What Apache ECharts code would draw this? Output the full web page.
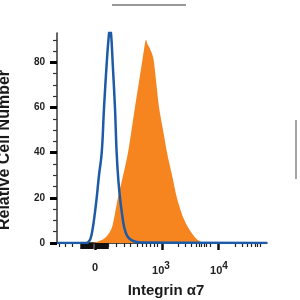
<!DOCTYPE html>
<html>
<head>
<meta charset="utf-8">
<script src="https://cdn.jsdelivr.net/npm/echarts@6/dist/echarts.min.js"></script>
<style>html,body{margin:0;padding:0;background:#fff}#c{width:300px;height:300px}</style>
</head>
<body>
<div id="c"></div>
<script>
// Display-scale channel (0..1000) on a biexponential axis
const isotypeX = [0, 140, 150, 160, 171, 180, 189, 200, 213, 224, 237, 245, 252, 258, 265, 276, 284, 292, 300, 308, 320, 335, 360, 400, 1000];
const isotypeY = [0, 0, 0.5, 2, 7, 13, 20, 30, 40, 60, 80, 90, 95, 92, 80, 60, 40, 28, 20, 14, 7, 3, 1, 0.2, 0];

const stainedX = [0, 167, 185, 205, 225, 245, 262, 276, 290, 315, 338, 355, 371, 388, 405, 415, 424, 431, 438, 445, 452, 458, 462, 474, 486, 505, 524, 548, 571, 598, 624, 645, 662, 680, 695, 1000];
const stainedY = [0, 0, 0.3, 1, 2, 4, 7, 13, 20, 30, 40, 50, 60, 70, 80, 86, 90, 88, 87, 85.5, 84, 82, 80, 70, 60, 50, 40, 30, 20, 12, 7, 4, 2, 0.8, 0, 0];

const xLabelValues = [181, 495, 771];
const xLabelBase = ['0', '10', '10'];
const xLabelExp = ['', '3', '4'];
const xMajorTicks = [181, 499, 768];
const xDenseTicks = [114, 124, 133, 143, 152, 162, 167, 190, 200, 210, 219, 229, 238];
const xMinorTicks = [9.5, 41, 73, 243, 284, 319, 348, 380, 405, 427, 443, 462, 475, 576, 610, 641, 662, 678, 689, 700, 713, 729, 848, 880, 906, 927, 943, 954, 967];

const yLabelValues = [0, 20, 40, 60, 80];
const yMinorTicks = [5, 10, 15, 25, 30, 35, 45, 50, 55, 65, 70, 75, 85, 90];

const xTitle = 'Integrin α7';
const yTitle = 'Relative Cell Number';

const chart = echarts.init(document.getElementById('c'));
const font = 'Liberation Sans, Arial, sans-serif';
const pair = (xs, ys) => xs.map((x, i) => [x, ys[i]]);

const baseX = {
  type: 'value', min: 0, max: 1000, position: 'bottom',
  splitLine: { show: false }, axisLabel: { show: false },
  axisLine: { show: false }
};

chart.setOption({
  animation: false,
  grid: { left: 57, right: 33, top: 33, bottom: 57, containLabel: false, outerBoundsMode: 'none' },
  xAxis: [
    Object.assign({}, baseX, {
      axisLine: { show: true, lineStyle: { color: '#111', width: 1.5 } },
      axisTick: { show: true, customValues: xMajorTicks, length: 7, lineStyle: { color: '#111', width: 2.5 } },
      axisLabel: {
        show: true, customValues: xLabelValues, margin: 18,
        formatter: v => {
          const i = xLabelValues.indexOf(v);
          if (i < 0) return '';
          return xLabelExp[i] ? '{b|' + xLabelBase[i] + '}{s|' + xLabelExp[i] + '}' : '{b|' + xLabelBase[i] + '}';
        },
        rich: {
          b: { fontFamily: font, fontWeight: 'bold', fontSize: 11, color: '#222', lineHeight: 14 },
          s: { fontFamily: font, fontWeight: 'bold', fontSize: 10, color: '#222', padding: [0, 0, 10, 0] }
        }
      },
      name: xTitle, nameLocation: 'middle', nameGap: 40,
      nameTextStyle: { fontFamily: font, fontWeight: 'bold', fontSize: 15, color: '#1a1a1a', padding: [0, 0, 0, 8] }
    }),
    Object.assign({}, baseX, {
      axisTick: { show: true, customValues: xDenseTicks, length: 6, lineStyle: { color: '#111', width: 2.5 } }
    }),
    Object.assign({}, baseX, {
      axisTick: { show: true, customValues: xMinorTicks, length: 4, lineStyle: { color: '#222', width: 1.2 } }
    })
  ],
  yAxis: [
    {
      type: 'value', min: 0, max: 93,
      splitLine: { show: false },
      axisLine: { show: true, lineStyle: { color: '#333', width: 1.5 } },
      axisTick: { show: true, customValues: yLabelValues, length: 7, lineStyle: { color: '#000', width: 3 } },
      axisLabel: { customValues: yLabelValues, margin: 12, fontFamily: font, fontWeight: 'bold', fontSize: 10, color: '#222' },
      name: yTitle, nameLocation: 'middle', nameGap: 44,
      nameTextStyle: { fontFamily: font, fontWeight: 'bold', fontSize: 16, color: '#1a1a1a', padding: [0, 24, 0, 0] }
    },
    {
      type: 'value', min: 0, max: 93, position: 'left', offset: 0,
      splitLine: { show: false }, axisLine: { show: false }, axisLabel: { show: false },
      axisTick: { show: true, customValues: yMinorTicks, length: 4, lineStyle: { color: '#333', width: 1.2 } }
    }
  ],
  series: [
    {
      type: 'line', data: pair(stainedX, stainedY), smooth: 0.3, showSymbol: false,
      lineStyle: { width: 0 }, areaStyle: { color: '#f6841f', opacity: 1 }, z: 2
    },
    {
      type: 'line', data: pair(isotypeX, isotypeY), smooth: 0.4, showSymbol: false,
      lineStyle: { color: '#1d5ba6', width: 2.5 }, z: 3
    }
  ],
  graphic: [
    { type: 'line', shape: { x1: 112, y1: 5, x2: 186, y2: 5 }, style: { stroke: '#777', lineWidth: 1.5 } },
    { type: 'line', shape: { x1: 296, y1: 120, x2: 296, y2: 179 }, style: { stroke: '#666', lineWidth: 1.2 } }
  ]
});
</script>
</body>
</html>
